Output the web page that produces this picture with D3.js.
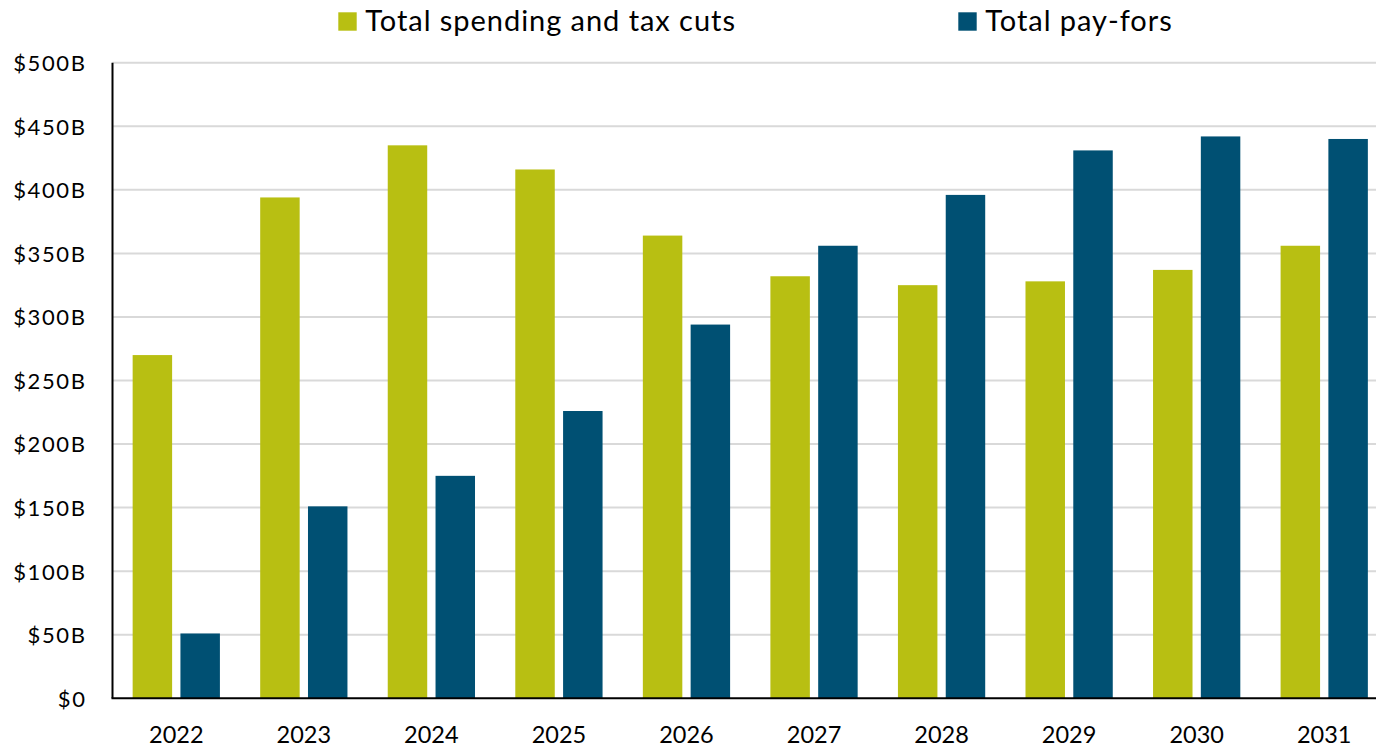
<!DOCTYPE html>
<html>
<head>
<meta charset="utf-8">
<script src="https://cdn.jsdelivr.net/npm/d3@7"></script>
<style>
  html, body { margin: 0; padding: 0; background: #fff; }
  svg { display: block; font-family: Lato, "Open Sans", sans-serif; }
</style>
</head>
<body>
<svg id="chart" width="1376" height="748"></svg>
<script>
// Fiscal years shown on the x axis
const years = ["2022", "2023", "2024", "2025", "2026", "2027", "2028", "2029", "2030", "2031"];
// Annual totals, billions of dollars
const spendingAndTaxCuts = [270, 394, 435, 416, 364, 332, 325, 328, 337, 356];
const payFors = [51, 151, 175, 226, 294, 356, 396, 431, 442, 440];
// Series names and colours
const seriesNames = ["Total spending and tax cuts", "Total pay-fors"];
const seriesColors = ["#b8bf12", "#005073"];
// Y axis ticks
const yTicks = [0, 50, 100, 150, 200, 250, 300, 350, 400, 450, 500];

const svg = d3.select("#chart");
const plotLeft = 112.5, plotRight = 1388, plotTop = 62.7, plotBottom = 698.3;

const x0 = d3.scaleBand().domain(years).range([plotLeft, plotRight]).padding(0);
const x1 = d3.scaleBand().domain([0, 1]).range([0, x0.bandwidth()])
  .paddingInner(0.174).paddingOuter(0.4215);
const y = d3.scaleLinear().domain([0, 500]).range([plotBottom, plotTop]);

const fmt = v => v === 0 ? "$0" : `$${v}B`;

// Horizontal gridlines
svg.append("g")
  .selectAll("line")
  .data(yTicks.filter(d => d > 0))
  .join("line")
  .attr("x1", plotLeft).attr("x2", 1376)
  .attr("y1", d => y(d)).attr("y2", d => y(d))
  .attr("stroke", "#d9d9d9").attr("stroke-width", 2);

// Y axis labels
const yAxis = d3.axisLeft(y).tickValues(yTicks).tickFormat(fmt).tickSize(0).tickPadding(26);
const gy = svg.append("g").attr("transform", `translate(${plotLeft},0)`).call(yAxis);
gy.select(".domain").remove();
gy.selectAll("text")
  .attr("font-family", "Lato, sans-serif")
  .attr("font-size", 22)
  .attr("letter-spacing", 1.6)
  .attr("fill", "#000")
  .attr("dy", "0.36em");

// Bars
const rows = years.map((yr, i) => ({ year: yr, values: [spendingAndTaxCuts[i], payFors[i]] }));
const groups = svg.append("g")
  .selectAll("g")
  .data(rows)
  .join("g")
  .attr("transform", d => `translate(${x0(d.year)},0)`);
groups.selectAll("rect")
  .data(d => d.values.map((v, k) => ({ k, v })))
  .join("rect")
  .attr("x", d => x1(d.k))
  .attr("width", x1.bandwidth())
  .attr("y", d => y(d.v))
  .attr("height", d => y(0) - y(d.v))
  .attr("fill", d => seriesColors[d.k]);

// X axis
const xAxis = d3.axisBottom(x0).tickSize(0).tickPadding(28);
const gx = svg.append("g").attr("transform", `translate(0,${plotBottom})`).call(xAxis);
gx.select(".domain").remove();
gx.selectAll("text")
  .attr("font-family", "Lato, sans-serif")
  .attr("font-size", 23.5)
  .attr("fill", "#000");

// Axis lines
svg.append("line")
  .attr("x1", plotLeft).attr("x2", plotLeft).attr("y1", plotTop).attr("y2", plotBottom)
  .attr("stroke", "#000").attr("stroke-width", 2);
svg.append("line")
  .attr("x1", plotLeft - 1).attr("x2", 1376).attr("y1", plotBottom).attr("y2", plotBottom)
  .attr("stroke", "#000").attr("stroke-width", 2);

// Legend
const legendX = [338.3, 958.3];
const legend = svg.append("g")
  .selectAll("g")
  .data(seriesNames)
  .join("g")
  .attr("transform", (d, i) => `translate(${legendX[i]},0)`);
legend.append("rect")
  .attr("x", 0).attr("y", 12.3)
  .attr("width", 18.4).attr("height", 18.4)
  .attr("fill", (d, i) => seriesColors[i]);
legend.append("text")
  .attr("x", 27).attr("y", 30.7)
  .attr("font-family", "Lato, sans-serif")
  .attr("font-size", 29)
  .attr("letter-spacing", 0.95)
  .attr("fill", "#000")
  .text(d => d);
</script>
</body>
</html>
